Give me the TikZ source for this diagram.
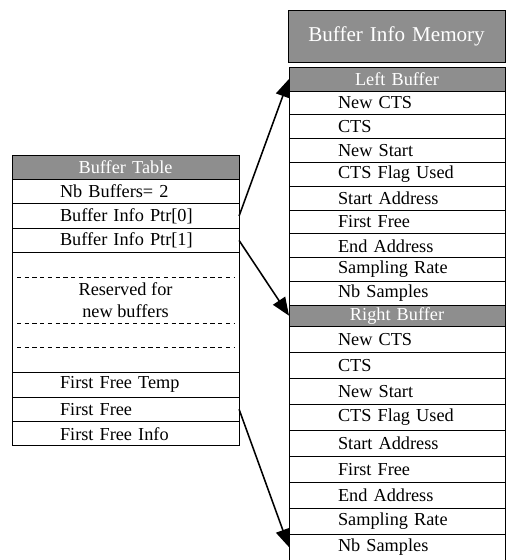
\documentclass[tikz,border=0pt]{standalone}
\usepackage{fontspec}
\setmainfont{Liberation Serif}
\usetikzlibrary{arrows.meta,positioning}
\definecolor{Stipple}{HTML}{8E8E8E}
\tikzset{
  ptrarrow/.style={-{Triangle[length=4.5mm,width=3.6mm]},line width=1.1pt},
  cellbase/.style={draw,line width=0.7pt,outer sep=0pt,inner ysep=0pt,anchor=north west,
    font=\fontsize{13}{15}\selectfont},
  tabcell/.style={cellbase,minimum width=5.675cm,text width=5.475cm,inner xsep=1mm,
    minimum height=0.61cm,align=left,execute at begin node=\hspace*{1.1cm}},
  tabhead/.style={cellbase,minimum width=5.675cm,text width=5.475cm,inner xsep=1mm,
    minimum height=0.61cm,align=center,fill=Stipple,text=white},
  memcell/.style={cellbase,minimum width=5.4cm,text width=5.2cm,inner xsep=1mm,
    minimum height=#1,align=left,execute at begin node=\hspace*{1.125cm}},
  memcell/.default=0.595cm,
  memhead/.style={cellbase,minimum width=5.4cm,text width=5.2cm,inner xsep=1mm,
    minimum height=0.6cm,align=center,fill=Stipple,text=white},
  sparedash/.style={dashed,line width=0.6pt,dash pattern=on 3pt off 2.5pt},
}
\begin{document}
\begin{tikzpicture}[x=0.025cm,y=-0.025cm]
  \useasboundingbox (0,0) rectangle (506,560);

  % buffer table
  \node[tabhead] (thead) at (12,155) {Buffer Table};
  \node[tabcell,below=0pt of thead] (tnb) {Nb Buffers= 2};
  \node[tabcell,below=0pt of tnb] (tptra) {Buffer Info Ptr[0]};
  \node[tabcell,below=0pt of tptra] (tptrb) {Buffer Info Ptr[1]};
  \node[tabcell,minimum height=3cm,below=0pt of tptrb] (tspare) {};
  \node[tabcell,below=0pt of tspare] (tfftmp) {First Free Temp};
  \node[tabcell,below=0pt of tfftmp] (tff) {First Free};
  \node[tabcell,below=0pt of tff] (tffinfo) {First Free Info};

  \draw[sparedash] ([xshift=0.125cm,yshift=-0.61cm]tspare.north west) -- ([xshift=-0.125cm,yshift=-0.61cm]tspare.north east);
  \draw[sparedash] ([xshift=0.125cm,yshift=-1.76cm]tspare.north west) -- ([xshift=-0.125cm,yshift=-1.76cm]tspare.north east);
  \draw[sparedash] ([xshift=0.125cm,yshift=-2.36cm]tspare.north west) -- ([xshift=-0.125cm,yshift=-2.36cm]tspare.north east);
  \node[align=center,font=\fontsize{13}{15.5}\selectfont] (tres) at ([yshift=-1.185cm]tspare.north) {Reserved for\\new buffers};

  % buffer info memory
  \node[memhead,minimum width=5.425cm,text width=5.225cm,minimum height=1.3cm,
    font=\fontsize{15}{18}\selectfont] (mtitle) at (288,10) {Buffer Info Memory};

  \node[memhead] (lhead) at (289,67) {Left Buffer};
  \node[memcell,below=0pt of lhead] (lnewcts) {New CTS};
  \node[memcell,below=0pt of lnewcts] (lcts) {CTS};
  \node[memcell,below=0pt of lcts] (lnewstart) {New Start};
  \node[memcell,below=0pt of lnewstart] (lflag) {CTS Flag Used};
  \node[memcell,below=0pt of lflag] (lstart) {Start Address};
  \node[memcell,below=0pt of lstart] (lfree) {First Free};
  \node[memcell,below=0pt of lfree] (lend) {End Address};
  \node[memcell,below=0pt of lend] (lrate) {Sampling Rate};
  \node[memcell,below=0pt of lrate] (lnsam) {Nb Samples};

  \node[memhead,minimum height=0.52cm,below=0pt of lnsam] (rhead) {Right Buffer};
  \node[memcell=0.65cm,below=0pt of rhead] (rnewcts) {New CTS};
  \node[memcell=0.65cm,below=0pt of rnewcts] (rcts) {CTS};
  \node[memcell=0.65cm,below=0pt of rcts] (rnewstart) {New Start};
  \node[memcell=0.65cm,below=0pt of rnewstart] (rflag) {CTS Flag Used};
  \node[memcell=0.65cm,below=0pt of rflag] (rstart) {Start Address};
  \node[memcell=0.65cm,below=0pt of rstart] (rfree) {First Free};
  \node[memcell=0.65cm,below=0pt of rfree] (rend) {End Address};
  \node[memcell=0.65cm,below=0pt of rend] (rrate) {Sampling Rate};
  \node[memcell=0.65cm,below=0pt of rrate] (rnsam) {Nb Samples};

  % pointers
  \draw[ptrarrow] (tptra.east) -- (lhead.west);
  \draw[ptrarrow] (tptrb.east) -- (rhead.west);
  \draw[ptrarrow] (tff.east) -- (rnsam.west);
\end{tikzpicture}
\end{document}
